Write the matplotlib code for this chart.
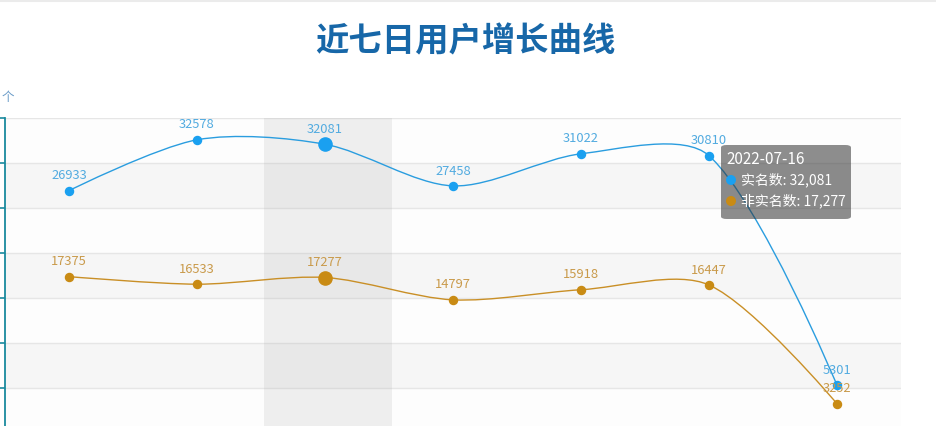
import numpy as np
import matplotlib
matplotlib.use("Agg")
import matplotlib.pyplot as plt
from matplotlib.path import Path
from matplotlib.patches import PathPatch, FancyBboxPatch, Ellipse
from matplotlib.lines import Line2D

plt.rcParams['font.family'] = ['Noto Sans CJK SC', 'DejaVu Sans']

# data
dates = ["2022-07-14", "2022-07-15", "2022-07-16", "2022-07-17",
         "2022-07-18", "2022-07-19", "2022-07-20"]
real_name = [26933, 32578, 32081, 27458, 31022, 30810, 5301]
non_real = [17375, 16533, 17277, 14797, 15918, 16447, 3252]
series_names = ["实名数", "非实名数"]
hover_idx = 2

W, H = 937, 426
fig = plt.figure(figsize=(W / 100, H / 100), dpi=100)
fig.patch.set_facecolor("white")


def fx(px):
    return px / W


def fy(py):
    return 1 - py / H


# grid area: left 5px, right 901px, top 118px, bottom 433px (cut off)
ax = fig.add_axes([fx(5), fy(433), (901 - 5) / W, (433 - 118) / H])
ax.set_xlim(-0.5, len(dates) - 0.5)
ax.set_ylim(0, 35000)
ax.set_facecolor("white")

# split area bands + split lines
for i in range(7):
    c = "#f6f6f6" if i % 2 == 1 else "#fdfdfd"
    ax.axhspan(i * 5000, (i + 1) * 5000, color=c, lw=0, zorder=0)
for v in range(5000, 35001, 5000):
    ax.axhline(v, color="#e6e6e6", lw=1, zorder=1)

# axis pointer shadow
ax.axvspan(hover_idx - 0.48, hover_idx + 0.52, color="#999999", alpha=0.14, lw=0, zorder=1.5)

for s in ["top", "right", "bottom"]:
    ax.spines[s].set_visible(False)
ax.spines["left"].set_color("#1a8a9e")
ax.spines["left"].set_linewidth(1.3)
ax.set_yticks(range(0, 35001, 5000))
ax.set_xticks(range(len(dates)))
ax.set_xticklabels(dates)
ax.tick_params(axis="y", direction="out", length=5, width=1.2, color="#1a8a9e", labelleft=False)
ax.tick_params(axis="x", length=0, labelbottom=False)

fig.canvas.draw()


def smooth_path(xs, ys, smooth=0.3):
    # echarts-like smoothing, done in pixel space
    pts = ax.transData.transform(np.column_stack([xs, ys]))
    n = len(pts)
    verts = [pts[0]]
    codes = [Path.MOVETO]
    cp0 = pts[0]
    for i in range(1, n):
        cur = pts[i]
        prev = pts[i - 1]
        if i + 1 < n:
            nxt = pts[i + 1]
            v = nxt - prev
            l0 = np.hypot(*(cur - prev))
            l1 = np.hypot(*(nxt - cur))
            r = l1 / (l0 + l1)
            cp1 = cur - v * smooth * (1 - r)
            new_cp0 = cur + v * smooth * r
        else:
            cp1 = cur
            new_cp0 = cur
        verts += [cp0, cp1, cur]
        codes += [Path.CURVE4] * 3
        cp0 = new_cp0
    verts = ax.transData.inverted().transform(np.array(verts))
    return Path(verts, codes)


styles = [
    dict(line="#2a9ddf", marker="#1aa0f0", label="#52abe0", vals=real_name),
    dict(line="#c98f26", marker="#c98b14", label="#c99a4a", vals=non_real),
]

x = np.arange(len(dates))
for st in styles:
    p = smooth_path(x, st["vals"])
    ax.add_patch(PathPatch(p, fill=False, edgecolor=st["line"], lw=1.0, zorder=3))
    sizes = [9.5 if i == hover_idx else 5.8 for i in range(len(x))]
    for xi, yi, ms in zip(x, st["vals"], sizes):
        ax.plot(xi, yi, "o", ms=ms, color=st["marker"], mec=st["marker"], zorder=4, clip_on=False)
        ax.annotate(str(yi), (xi, yi), xytext=(0, 6), textcoords="offset points",
                    ha="center", va="bottom", fontsize=9.3, color=st["label"], zorder=5)

# title and unit
fig.text(fx(465), fy(42), "近七日用户增长曲线", ha="center", va="center",
         fontsize=24, fontweight="bold", color="#1767a8")
fig.text(fx(8), fy(97), "个", ha="center", va="center", fontsize=9, color="#6a9cc8")

# thin line on top edge
fig.add_artist(Line2D([0, 1], [fy(1), fy(1)], transform=fig.transFigure, color="#ebebeb", lw=1.5))

# tooltip
tip = FancyBboxPatch((fx(721), fy(219)), fx(851) - fx(721), fy(145) - fy(219),
                     boxstyle="round,pad=0,rounding_size=0.006", transform=fig.transFigure,
                     facecolor=(50 / 255, 50 / 255, 50 / 255, 0.55), edgecolor="none", zorder=10)
fig.add_artist(tip)
fig.text(fx(726), fy(160), dates[hover_idx], ha="left", va="center", fontsize=11,
         color="white", zorder=11)
for k, (st, name) in enumerate(zip(styles, series_names)):
    yy = 180 + k * 21
    fig.add_artist(Ellipse((fx(731), fy(yy)), 10 / W, 10 / H, transform=fig.transFigure,
                           facecolor=st["marker"], edgecolor="none", zorder=11))
    fig.text(fx(741), fy(yy), f"{name}: {st['vals'][hover_idx]:,}", ha="left", va="center",
             fontsize=10, color="white", zorder=11)

fig.savefig("out.png", dpi=100)
